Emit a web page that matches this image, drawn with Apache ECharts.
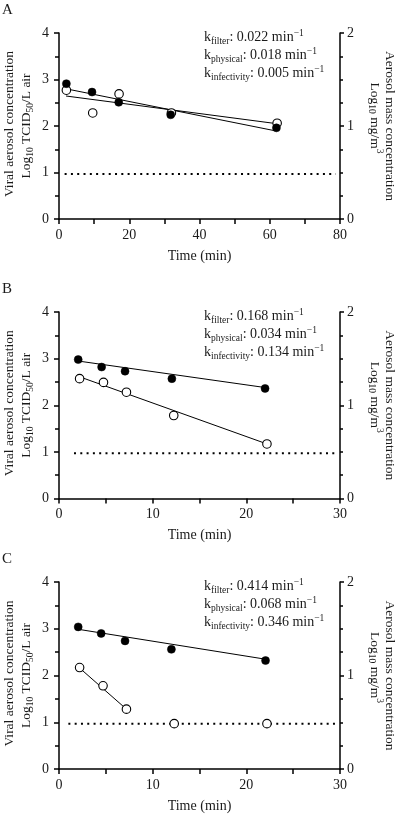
<!DOCTYPE html>
<html><head><meta charset="utf-8">
<script src="https://cdn.jsdelivr.net/npm/echarts@6/dist/echarts.min.js"></script>
<style>html,body{margin:0;padding:0;background:#fff}#c{width:400px;height:816px}</style>
</head><body><div id="c"></div>
<script>
// ---------- data (left axis: Log10 TCID50/L air, right axis: Log10 mg/m3) ----------
const panelLetters = ['A', 'B', 'C'];
const xMax = [80, 30, 30];
const xInterval = [20, 10, 10];

// Panel A
const timeMassA = [2.1, 9.4, 17, 31.8, 61.9];
const massA = [1.455, 1.365, 1.255, 1.12, 0.98];
const timeVirusA = [2.1, 9.6, 17.1, 32, 62.1];
const virusA = [2.77, 2.28, 2.69, 2.28, 2.06];
const fitMassTimeA = [2, 62];
const fitMassA = [1.40, 0.945];
const fitVirusTimeA = [2, 62];
const fitVirusA = [2.645, 2.05];
const ratesA = ['0.022', '0.018', '0.005'];

// Panel B
const timeMassB = [2.05, 4.55, 7.05, 12.05, 22];
const massB = [1.49, 1.41, 1.365, 1.285, 1.18];
const timeVirusB = [2.2, 4.75, 7.2, 12.25, 22.2];
const virusB = [2.57, 2.49, 2.28, 1.78, 1.17];
const fitMassTimeB = [2, 22];
const fitMassB = [1.475, 1.19];
const fitVirusTimeB = [2.2, 22.2];
const fitVirusB = [2.61, 1.17];
const ratesB = ['0.168', '0.034', '0.134'];

// Panel C
const timeMassC = [2.05, 4.5, 7.05, 12.0, 22.05];
const massC = [1.52, 1.45, 1.37, 1.28, 1.16];
const timeVirusC = [2.2, 4.7, 7.2, 12.3, 22.2];
const virusC = [2.17, 1.78, 1.28, 0.97, 0.97];
const fitMassTimeC = [2, 22];
const fitMassC = [1.495, 1.175];
const fitVirusTimeC = [2.2, 7.2];
const fitVirusC = [2.16, 1.28];
const ratesC = ['0.414', '0.068', '0.346'];

// Limit of detection (left axis)
const lodValue = 0.97;
const lodTimeA = [1.6, 78.8];
const lodTimeB = [1.6, 29.7];
const lodTimeC = [1.0, 29.7];

// ---------- build ----------
const FONT = "'Liberation Serif','DejaVu Serif',serif";
const TXT = '#1a1a1a';
const gridTops = [33, 312, 582];
const gridH = [186, 186.5, 187];
const gridLeft = 59, gridRight = 60;

const panels = [
  {tm: timeMassA, m: massA, tv: timeVirusA, v: virusA, fmt: fitMassTimeA, fm: fitMassA, fvt: fitVirusTimeA, fv: fitVirusA, lod: lodTimeA, rates: ratesA},
  {tm: timeMassB, m: massB, tv: timeVirusB, v: virusB, fmt: fitMassTimeB, fm: fitMassB, fvt: fitVirusTimeB, fv: fitVirusB, lod: lodTimeB, rates: ratesB},
  {tm: timeMassC, m: massC, tv: timeVirusC, v: virusC, fmt: fitMassTimeC, fm: fitMassC, fvt: fitVirusTimeC, fv: fitVirusC, lod: lodTimeC, rates: ratesC}
];
const zip = (a, b) => a.map((x, i) => [x, b[i]]);

const axisLine = {show: true, onZero: false, lineStyle: {color: '#000', width: 1.5}};
const labelStyle = {color: TXT, fontSize: 14, fontFamily: FONT};

const grid = [], xAxis = [], yAxis = [], series = [], graphic = [];

panels.forEach((p, i) => {
  grid.push({left: gridLeft, right: gridRight, top: gridTops[i], height: gridH[i], outerBoundsMode: 'none', containLabel: false});
  xAxis.push({
    type: 'value', gridIndex: i, min: 0, max: xMax[i], interval: xInterval[i], position: 'bottom',
    axisLine, axisTick: {show: true, length: 5, lineStyle: {color: '#000', width: 1.5}},
    minorTick: {show: true, splitNumber: 2, length: 5, lineStyle: {color: '#000', width: 1.5}},
    splitLine: {show: false}, minorSplitLine: {show: false},
    axisLabel: Object.assign({margin: 9}, labelStyle),
    name: 'Time (min)', nameLocation: 'middle', nameGap: 30,
    nameTextStyle: {color: TXT, fontSize: 14, fontFamily: FONT}
  });
  yAxis.push({
    type: 'value', gridIndex: i, min: 0, max: 4, interval: 1, position: 'left',
    axisLine, axisTick: {show: true, length: 5, lineStyle: {color: '#000', width: 1.5}},
    minorTick: {show: true, splitNumber: 2, length: 4, lineStyle: {color: '#000', width: 1.5}},
    splitLine: {show: false}, minorSplitLine: {show: false},
    axisLabel: Object.assign({margin: 10}, labelStyle)
  });
  yAxis.push({
    type: 'value', gridIndex: i, min: 0, max: 2, interval: 1, position: 'right',
    axisLine, axisTick: {show: true, length: 4, lineStyle: {color: '#000', width: 1.5}},
    minorTick: {show: true, splitNumber: 4, length: 3, lineStyle: {color: '#000', width: 1.5}},
    splitLine: {show: false}, minorSplitLine: {show: false},
    axisLabel: Object.assign({margin: 7}, labelStyle)
  });

  const base = {xAxisIndex: i, animation: false, silent: true};
  series.push(Object.assign({}, base, {
    type: 'line', yAxisIndex: 2 * i, data: zip(p.lod, [lodValue, lodValue]), symbol: 'none',
    lineStyle: {color: '#000', width: 2, type: [2, 4.3]}, z: 1
  }));
  series.push(Object.assign({}, base, {
    type: 'line', yAxisIndex: 2 * i, data: zip(p.fvt, p.fv), symbol: 'none',
    lineStyle: {color: '#000', width: 1}, z: 2
  }));
  series.push(Object.assign({}, base, {
    type: 'line', yAxisIndex: 2 * i + 1, data: zip(p.fmt, p.fm), symbol: 'none',
    lineStyle: {color: '#000', width: 1}, z: 2
  }));
  series.push(Object.assign({}, base, {
    type: 'scatter', yAxisIndex: 2 * i, data: zip(p.tv, p.v), symbol: 'circle', symbolSize: 8.5,
    itemStyle: {color: '#fff', borderColor: '#000', borderWidth: 1.1, opacity: 1}, z: 3
  }));
  series.push(Object.assign({}, base, {
    type: 'scatter', yAxisIndex: 2 * i + 1, data: zip(p.tm, p.m), symbol: 'circle', symbolSize: 8,
    itemStyle: {color: '#000', borderColor: '#000', borderWidth: 0.5, opacity: 1}, z: 4
  }));

  const top = gridTops[i], cy = top + gridH[i] / 2;
  const rich = {
    sub: {fontSize: 9.5, fontFamily: FONT, fill: TXT, height: 10, verticalAlign: 'bottom'},
    sup: {fontSize: 9.5, fontFamily: FONT, fill: TXT, height: 10, verticalAlign: 'top'}
  };
  const txt = (x, y, text, extra, fs) => Object.assign({
    type: 'text', x, y, silent: true,
    style: {text, fontSize: fs || 13.5, fontFamily: FONT, fill: TXT, align: 'center', verticalAlign: 'middle', lineHeight: 18, rich}
  }, extra || {});

  // panel letter
  graphic.push({type: 'text', x: 2, y: top - 23, silent: true,
    style: {text: panelLetters[i], fontSize: 15, fontFamily: FONT, fill: TXT, align: 'left', verticalAlign: 'middle'}});
  // left axis names
  graphic.push(txt(9, cy - 2, 'Viral aerosol concentration', {rotation: Math.PI / 2}));
  graphic.push(txt(26, cy, 'Log{sub|10} TCID{sub|50}/L air', {rotation: Math.PI / 2}));
  // right axis names
  graphic.push(txt(390, cy, 'Aerosol mass concentration', {rotation: -Math.PI / 2}));
  graphic.push(txt(375, cy - 8, 'Log{sub|10} mg/m{sup|3}', {rotation: -Math.PI / 2}));
  // rate annotation
  const t = 'k{sub|filter}: ' + p.rates[0] + ' min{sup|\u22121}\n' +
            'k{sub|physical}: ' + p.rates[1] + ' min{sup|\u22121}\n' +
            'k{sub|infectivity}: ' + p.rates[2] + ' min{sup|\u22121}';
  const g = txt(204, top - 5, t, null, 14);
  g.style.align = 'left';
  g.style.verticalAlign = 'top';
  graphic.push(g);
});

const chart = echarts.init(document.getElementById('c'), null, {renderer: 'canvas'});
chart.setOption({
  animation: false,
  backgroundColor: '#fff',
  grid, xAxis, yAxis, series, graphic,
  tooltip: {show: false}, legend: {show: false}
});
</script>
</body></html>
